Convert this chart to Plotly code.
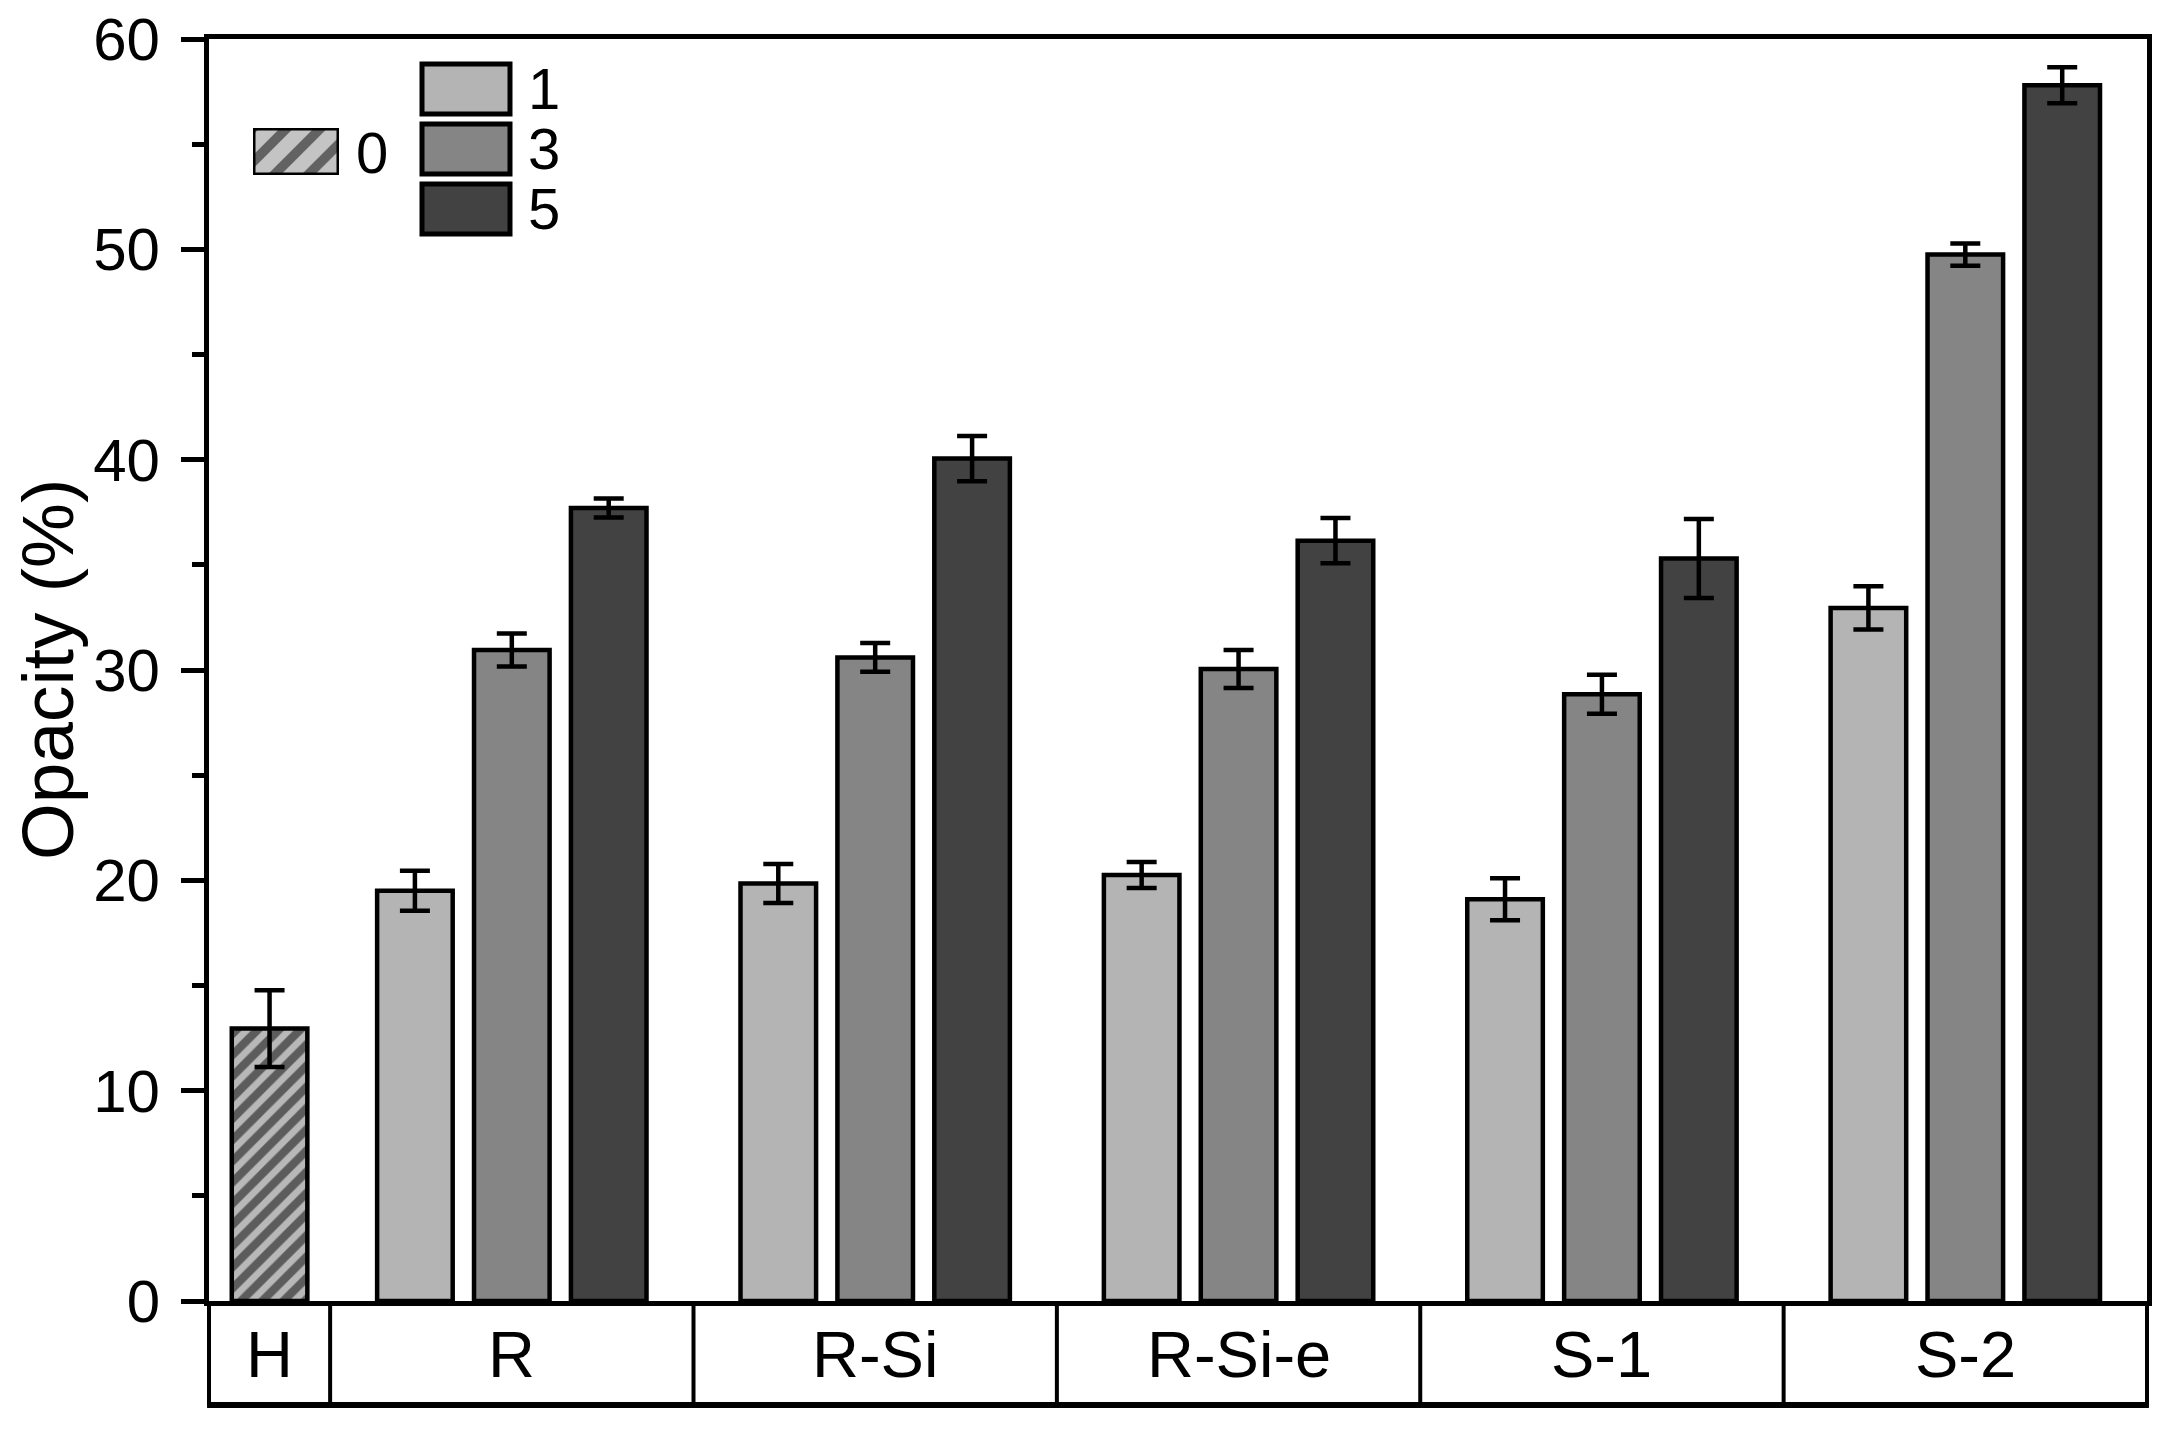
import plotly.graph_objects as go

# ---------------- data ----------------
categories = ["H", "R", "R-Si", "R-Si-e", "S-1", "S-2"]
series_names = ["0", "1", "3", "5"]
vals_0 = [12.95]
err_0 = [1.83]
vals_1 = [19.5, 19.85, 20.25, 19.1, 32.95]
err_1 = [0.95, 0.93, 0.62, 1.0, 1.03]
vals_3 = [30.95, 30.6, 30.05, 28.85, 49.75]
err_3 = [0.78, 0.68, 0.9, 0.93, 0.53]
vals_5 = [37.7, 40.05, 36.15, 35.3, 57.8]
err_5 = [0.45, 1.08, 1.08, 1.88, 0.86]
y_ticks = [0, 10, 20, 30, 40, 50, 60]

# ---------------- style ----------------
FONT = "Liberation Sans, Arial, sans-serif"
colors = {"1": "#b4b4b4", "3": "#858585", "5": "#424242"}
hatch_bg = "#b8b8b8"
W, H = 2182, 1437
BODY = 8                                   # default page body margin
L, R, T, B = 209, 2147, 39, 1301           # plot area in page pixels
TABLE_BOTTOM = 1405

def px_x(p):
    return (p - L) / (R - L)

def px_y(p):
    return (B - p) / (B - T)

# category cell widths (in x units); H cell is narrower
cell_widths = [1.25] + [3.75] * 5
bounds = [0.0]
for w in cell_widths:
    bounds.append(bounds[-1] + w)
centers = [(bounds[i] + bounds[i + 1]) / 2 for i in range(len(cell_widths))]
x_max = bounds[-1]
bar_w = 0.78
LW = 4.5

fig = go.Figure()

# H bar (hatched)
fig.add_trace(go.Bar(
    x=[centers[0]], y=vals_0, width=bar_w, name="0",
    marker=dict(color=hatch_bg,
                line=dict(color="black", width=LW),
                pattern=dict(shape="/", fgcolor="black", bgcolor=hatch_bg,
                             size=15, solidity=0.55, fillmode="overlay")),
    error_y=dict(type="data", array=err_0, color="black", thickness=4.5, width=15),
    showlegend=False,
))

for off, nm, vals, errs in [(-1, "1", vals_1, err_1), (0, "3", vals_3, err_3), (1, "5", vals_5, err_5)]:
    fig.add_trace(go.Bar(
        x=[c + off for c in centers[1:]], y=vals, width=bar_w, name=nm,
        marker=dict(color=colors[nm], line=dict(color="black", width=LW)),
        error_y=dict(type="data", array=errs, color="black", thickness=4.5, width=15),
        showlegend=False,
    ))

# hatched legend swatch drawn as a bar in a tiny subplot
fig.add_trace(go.Bar(
    x=[0.5], y=[1], width=1, xaxis="x2", yaxis="y2", cliponaxis=False,
    marker=dict(color="#c4c4c4", line=dict(color="black", width=5),
                pattern=dict(shape="/", fgcolor="black", bgcolor="#c4c4c4",
                             size=24, solidity=0.4, fillmode="overlay")),
    showlegend=False, hoverinfo="skip",
))

shapes = []
annotations = []

# category table below the axis
tb = px_y(TABLE_BOTTOM)
for b in bounds:
    shapes.append(dict(type="line", xref="paper", yref="paper",
                       x0=b / x_max, x1=b / x_max, y0=0, y1=tb,
                       line=dict(color="black", width=4)))
shapes.append(dict(type="line", xref="paper", yref="paper",
                   x0=-0.001, x1=1.001, y0=tb, y1=tb,
                   line=dict(color="black", width=6)))
for c, name in zip(centers, categories):
    annotations.append(dict(x=c / x_max, y=px_y(1355), xref="paper", yref="paper",
                            text=name, showarrow=False, xanchor="center", yanchor="middle",
                            font=dict(family=FONT, size=65, color="black")))

# legend: solid boxes for 1, 3, 5
legend_boxes = [("1", 64, 114), ("3", 124, 174), ("5", 184, 234)]
for nm, y0, y1 in legend_boxes:
    shapes.append(dict(type="rect", xref="paper", yref="paper",
                       x0=px_x(422), x1=px_x(510), y0=px_y(y1), y1=px_y(y0),
                       fillcolor=colors[nm], line=dict(color="black", width=5)))
    annotations.append(dict(x=px_x(526), y=px_y((y0 + y1) / 2), xref="paper", yref="paper",
                            text=nm, showarrow=False, xanchor="left", yanchor="middle",
                            font=dict(family=FONT, size=58, color="black")))
annotations.append(dict(x=px_x(354), y=px_y(152), xref="paper", yref="paper",
                        text=series_names[0], showarrow=False, xanchor="left", yanchor="middle",
                        font=dict(family=FONT, size=58, color="black")))

# y-axis title
annotations.append(dict(x=px_x(47), y=px_y(670), xref="paper", yref="paper",
                        text="Opacity (%)", textangle=-90, showarrow=False,
                        xanchor="center", yanchor="middle",
                        font=dict(family=FONT, size=73, color="black")))

fig.update_layout(
    width=W - 2 * BODY, height=H - 2 * BODY,
    margin=dict(l=L - BODY, r=(W - BODY) - R, t=T - BODY, b=(H - BODY) - B, pad=0,
                autoexpand=False),
    paper_bgcolor="white", plot_bgcolor="white",
    barmode="overlay",
    showlegend=False,
    shapes=shapes, annotations=annotations,
    xaxis=dict(range=[0, x_max], showgrid=False, zeroline=False,
               showticklabels=False, ticks="", automargin=False,
               showline=True, linecolor="black", linewidth=5, mirror=True,
               fixedrange=True),
    yaxis=dict(range=[0, 60], tickvals=y_ticks, showgrid=False, zeroline=False,
               automargin=False,
               showline=True, linecolor="black", linewidth=5, mirror=True,
               ticks="outside", ticklen=23, tickwidth=5, tickcolor="black",
               ticklabelstandoff=9, ticklabeloverflow="allow",
               minor=dict(dtick=5, ticks="outside", ticklen=12, tickwidth=5,
                          tickcolor="black", showgrid=False),
               tickfont=dict(family=FONT, size=60, color="black"),
               fixedrange=True),
    xaxis2=dict(domain=[px_x(253), px_x(339)], range=[0, 1], anchor="y2",
                visible=False, fixedrange=True, automargin=False),
    yaxis2=dict(domain=[px_y(175), px_y(128)], range=[0, 1], anchor="x2",
                visible=False, fixedrange=True, automargin=False),
)

fig.write_html("out.html")
